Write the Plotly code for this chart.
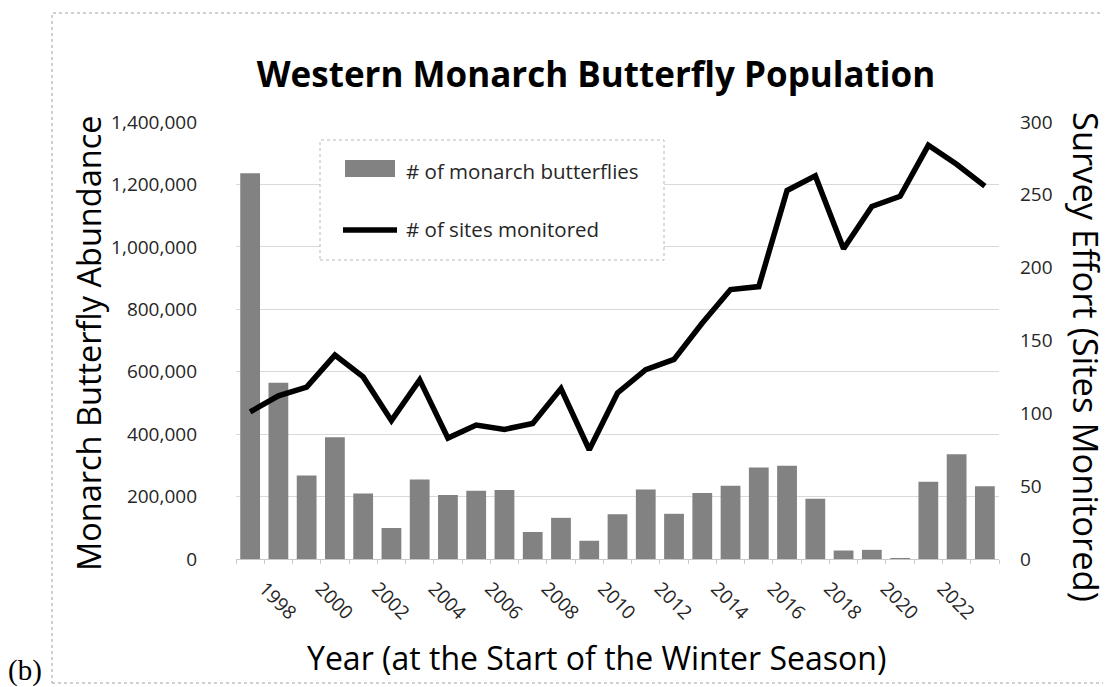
import plotly.graph_objects as go

years = list(range(1997, 2024))
butterflies = [1235490, 564349, 267574, 390057, 209570, 99353, 254378, 205085, 218679,
               221058, 86437, 131889, 58468, 143204, 222525, 144812, 211275, 234731,
               292888, 298464, 192624, 27218, 29418, 1899, 247237, 335479, 233394]
sites = [101, 112, 118, 140, 125, 95, 123, 83, 92, 89, 93, 117, 75, 114, 130, 137, 162,
         185, 187, 253, 263, 213, 242, 249, 284, 271, 256]
tick_years = list(range(1998, 2023, 2))
left_ticks = list(range(0, 1400001, 200000))
right_ticks = list(range(0, 301, 50))

FONT = "Open Sans"
OFF = 8  # page body margin
W, H = 1111 - OFF, 687 - OFF
PL, PR, PT, PB = 236, 999, 122, 559  # plot area in screen pixels

fig = go.Figure()
fig.add_trace(go.Bar(x=years, y=butterflies, name="# of monarch butterflies",
                     marker=dict(color="#828282", line=dict(width=0)), yaxis="y"))
fig.add_trace(go.Scatter(x=years, y=sites, name="# of sites monitored", mode="lines",
                         line=dict(color="black", width=5.5), yaxis="y2"))

fig.update_layout(
    width=W, height=H,
    margin=dict(l=PL - OFF, r=W - (PR - OFF), t=PT - OFF, b=H - (PB - OFF)),
    paper_bgcolor="white", plot_bgcolor="white",
    bargap=0.3,
    showlegend=False,
    font=dict(family=FONT, color="#262626"),
    title=dict(text="<b>Western Monarch Butterfly Population</b>", x=(596 - OFF) / W, xref="container",
               xanchor="center", y=1 - (75 - OFF) / H, yref="container", yanchor="middle",
               font=dict(size=35, color="black", family=FONT)),
    xaxis=dict(range=[1996.5, 2023.5], tickvals=tick_years, ticktext=[str(y) for y in tick_years],
               tickangle=45, tickfont=dict(size=19, color="#262626"), showgrid=False,
               showline=True, linecolor="#c8c8c8", linewidth=1, ticks="", ticklabelstandoff=10,
               ticklabelshift=-14,
               minor=dict(tick0=1996.5, dtick=1, ticks="outside", ticklen=4, tickcolor="#c8c8c8"),
               zeroline=False),
    yaxis=dict(range=[0, 1400000], tickvals=left_ticks,
               ticktext=[f"{v:,}" for v in left_ticks], tickfont=dict(size=19, color="#262626"),
               showgrid=True, gridcolor="#d9d9d9", gridwidth=1, zeroline=False,
               ticklabelstandoff=38, showline=False),
    yaxis2=dict(range=[0, 300], tickvals=right_ticks, overlaying="y", side="right",
                tickfont=dict(size=19, color="#262626"), showgrid=False, zeroline=False,
                ticklabelstandoff=20, showline=False),
)


def px(x):
    return (x - PL) / (PR - PL)


def py(y):
    return (PB - y) / (PB - PT)


# Axis titles
fig.add_annotation(text="Monarch Butterfly Abundance", xref="paper", yref="paper",
                   x=px(88), y=py(344), textangle=-90, showarrow=False,
                   font=dict(size=32.5, color="black", family=FONT), xanchor="center", yanchor="middle")
fig.add_annotation(text="Survey Effort (Sites Monitored)", xref="paper", yref="paper",
                   x=px(1087), y=py(357), textangle=90, showarrow=False,
                   font=dict(size=34.5, color="black", family=FONT), xanchor="center", yanchor="middle")
fig.add_annotation(text="Year (at the Start of the Winter Season)", xref="paper", yref="paper",
                   x=px(596), y=py(657), showarrow=False,
                   font=dict(size=32, color="black", family=FONT), xanchor="center", yanchor="middle")
fig.add_annotation(text="(b)", xref="paper", yref="paper",
                   x=px(25), y=py(670), showarrow=False,
                   font=dict(size=29, color="black", family="Liberation Serif"),
                   xanchor="center", yanchor="middle")

# outer border
fig.add_shape(type="rect", xref="paper", yref="paper", x0=px(52), x1=px(1108), y0=py(683), y1=py(13),
              line=dict(color="#a0a0a0", width=1, dash="dot"), layer="below")

# legend box (drawn manually to match the wide swatches)
fig.add_shape(type="rect", xref="paper", yref="paper", x0=px(320), x1=px(664), y0=py(260), y1=py(140),
              line=dict(color="#b8b8b8", width=1, dash="dot"), fillcolor="white", layer="above")
fig.add_shape(type="rect", xref="paper", yref="paper", x0=px(345), x1=px(395), y0=py(177), y1=py(160),
              line=dict(width=0), fillcolor="#828282", layer="above")
fig.add_shape(type="line", xref="paper", yref="paper", x0=px(343), x1=px(397), y0=py(230), y1=py(230),
              line=dict(color="black", width=5.5), layer="above")
fig.add_annotation(text="# of monarch butterflies", xref="paper", yref="paper", x=px(404), y=py(171),
                   showarrow=False, xanchor="left", yanchor="middle",
                   font=dict(size=20.5, color="#262626", family=FONT))
fig.add_annotation(text="# of sites monitored", xref="paper", yref="paper", x=px(404), y=py(229),
                   showarrow=False, xanchor="left", yanchor="middle",
                   font=dict(size=20.5, color="#262626", family=FONT))

fig.write_html("out.html")
